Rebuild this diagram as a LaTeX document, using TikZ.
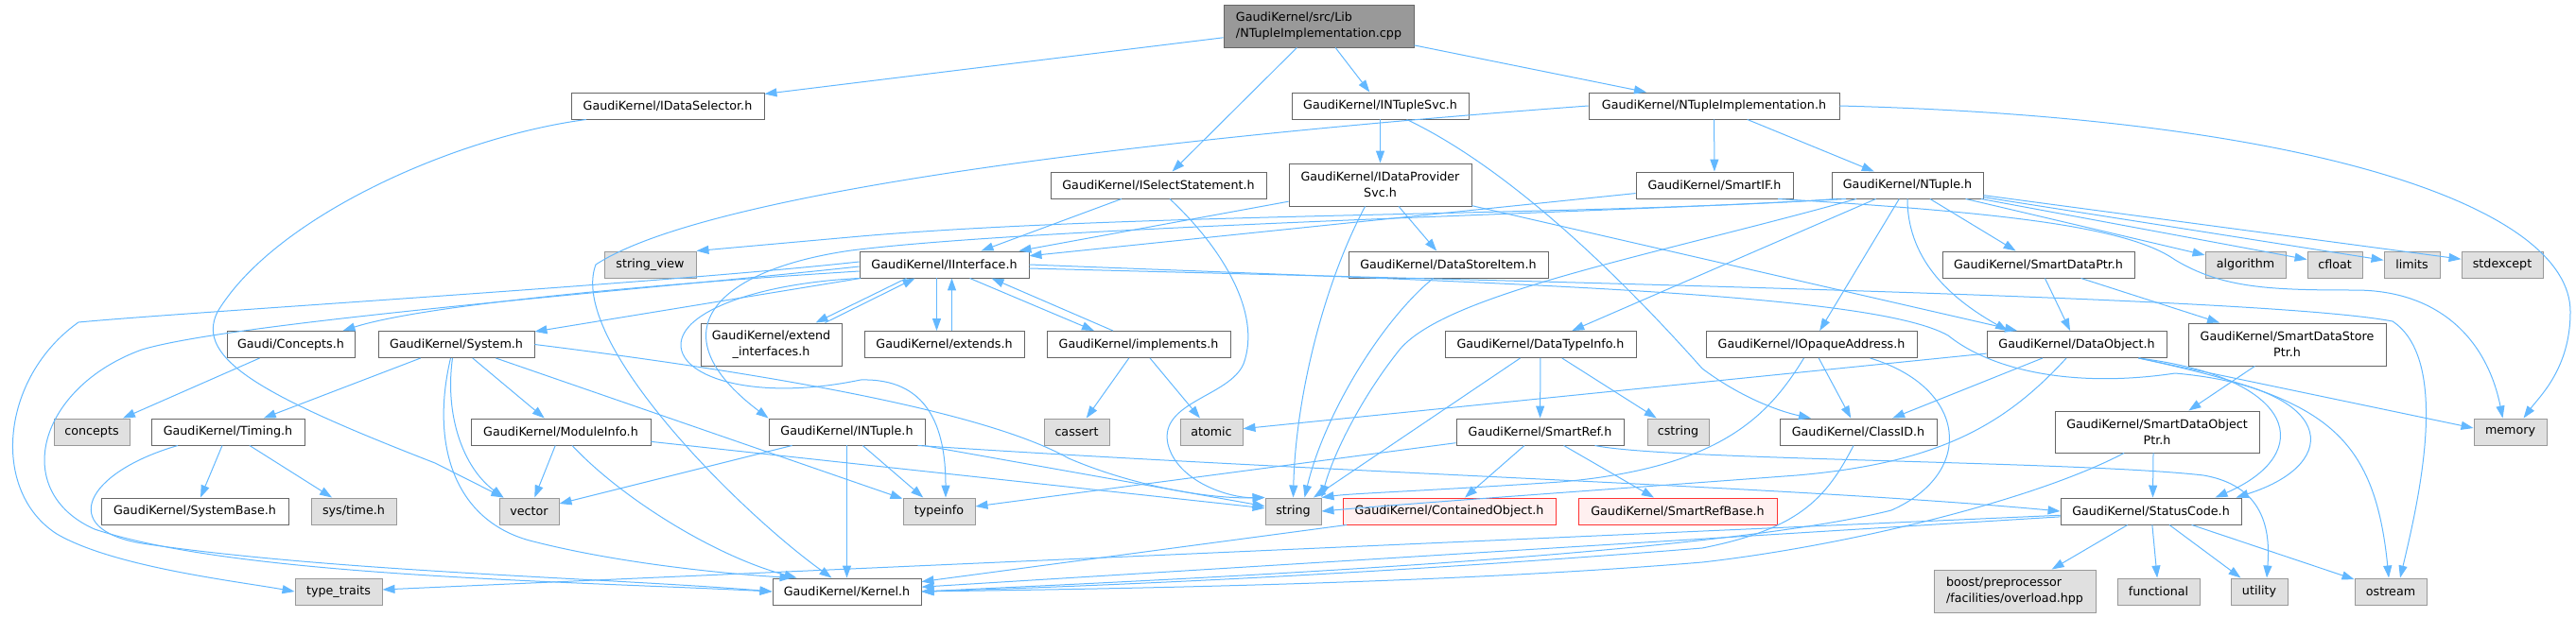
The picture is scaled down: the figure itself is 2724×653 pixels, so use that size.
\documentclass[tikz,border=0pt]{standalone}
\usepackage{fontspec}
\setmainfont{DejaVu Sans}
\usetikzlibrary{arrows.meta}
\definecolor{edgec}{HTML}{63B8FF}
\definecolor{nodeb}{HTML}{666666}
\definecolor{grayb}{HTML}{999999}
\definecolor{grayf}{HTML}{E0E0E0}
\definecolor{redb}{HTML}{FF3333}
\definecolor{redf}{HTML}{FFF0F0}
\definecolor{rootf}{HTML}{999999}
\newcommand{\fsz}{\fontsize{12.7}{16.7}\selectfont}
\tikzset{
  hnode/.style={draw=nodeb, fill=white, line width=0.95pt, inner sep=0pt, minimum height=28pt, font=\fsz, align=center},
  gnode/.style={hnode, draw=grayb, fill=grayf},
  rnode/.style={hnode, draw=redb, fill=redf},
  tnode/.style={hnode, minimum height=45pt},
  e/.style={draw=edgec, line width=1.0pt, -{Triangle[length=13pt,width=9pt]}},
}
\begin{document}
\begin{tikzpicture}[x=1pt,y=-1pt]
\useasboundingbox (0,0) rectangle (2724,653);
% nodes
\node[tnode, fill=rootf, minimum width=201pt, align=left] (root) at (1394.5,27.5) {GaudiKernel/src/Lib\\/NTupleImplementation.cpp};
\node[hnode, minimum width=204pt] (idsel) at (706,112) {GaudiKernel/IDataSelector.h};
\node[hnode, minimum width=187pt] (ntsvc) at (1459.5,112) {GaudiKernel/INTupleSvc.h};
\node[hnode, minimum width=265pt] (ntimplh) at (1812.5,112) {GaudiKernel/NTupleImplementation.h};
\node[hnode, minimum width=228pt] (isel) at (1225,196) {GaudiKernel/ISelectStatement.h};
\node[tnode, minimum width=193pt] (idps) at (1459.5,195.5) {GaudiKernel/IDataProvider\\Svc.h};
\node[hnode, minimum width=166pt] (smartif) at (1813,196) {GaudiKernel/SmartIF.h};
\node[hnode, minimum width=160pt] (ntuple) at (2017,196) {GaudiKernel/NTuple.h};
\node[gnode, minimum width=97pt] (strview) at (687.5,280) {string\_view};
\node[hnode, minimum width=179pt] (iif) at (998.5,280) {GaudiKernel/IInterface.h};
\node[hnode, minimum width=211pt] (dsi) at (1531.5,280) {GaudiKernel/DataStoreItem.h};
\node[hnode, minimum width=203pt] (sdp) at (2155.5,280) {GaudiKernel/SmartDataPtr.h};
\node[gnode, minimum width=85pt] (algo) at (2374.5,280) {algorithm};
\node[gnode, minimum width=58pt] (cfloat) at (2469,280) {cfloat};
\node[gnode, minimum width=59pt] (limits) at (2550.5,280) {limits};
\node[gnode, minimum width=86pt] (stdexc) at (2646,280) {stdexcept};
\node[hnode, minimum width=135pt] (concepth) at (307.5,364.5) {Gaudi/Concepts.h};
\node[hnode, minimum width=165pt] (system) at (482.5,364.5) {GaudiKernel/System.h};
\node[tnode, minimum width=149pt] (extif) at (815.5,364.5) {GaudiKernel/extend\\\_interfaces.h};
\node[hnode, minimum width=169pt] (extends) at (998.5,364.5) {GaudiKernel/extends.h};
\node[hnode, minimum width=194pt] (impl) at (1204,364.5) {GaudiKernel/implements.h};
\node[hnode, minimum width=202pt] (dti) at (1629,364.5) {GaudiKernel/DataTypeInfo.h};
\node[hnode, minimum width=223pt] (ioa) at (1915.5,364.5) {GaudiKernel/IOpaqueAddress.h};
\node[hnode, minimum width=190pt] (dobj) at (2196,364.5) {GaudiKernel/DataObject.h};
\node[tnode, minimum width=209pt] (sdsp) at (2418.5,364.5) {GaudiKernel/SmartDataStore\\Ptr.h};
\node[gnode, minimum width=80pt] (concepts) at (97,457) {concepts};
\node[hnode, minimum width=162pt] (timing) at (241,457) {GaudiKernel/Timing.h};
\node[hnode, minimum width=190pt] (modinfo) at (593,457) {GaudiKernel/ModuleInfo.h};
\node[hnode, minimum width=165pt] (intuple) at (895.5,457) {GaudiKernel/INTuple.h};
\node[gnode, minimum width=69pt] (cassert) at (1138.5,457) {cassert};
\node[gnode, minimum width=66pt] (atomic) at (1281,457) {atomic};
\node[hnode, minimum width=177pt] (smartref) at (1628.5,457) {GaudiKernel/SmartRef.h};
\node[gnode, minimum width=65pt] (cstring) at (1774.5,457) {cstring};
\node[hnode, minimum width=166pt] (classid) at (1965,457) {GaudiKernel/ClassID.h};
\node[tnode, minimum width=216pt, minimum height=44pt] (sdop) at (2281,457) {GaudiKernel/SmartDataObject\\Ptr.h};
\node[gnode, minimum width=77pt] (memory) at (2654.5,457) {memory};
\node[hnode, minimum width=198pt] (sysbase) at (206,541) {GaudiKernel/SystemBase.h};
\node[gnode, minimum width=90pt] (systime) at (374,541) {sys/time.h};
\node[gnode, minimum width=63pt] (vector) at (559.5,541) {vector};
\node[gnode, minimum width=76pt] (typeinfo) at (993,541) {typeinfo};
\node[gnode, minimum width=59pt] (string) at (1367.5,541) {string};
\node[rnode, minimum width=225pt] (contobj) at (1532.5,541) {GaudiKernel/ContainedObject.h};
\node[rnode, minimum width=210pt] (srbase) at (1774,541) {GaudiKernel/SmartRefBase.h};
\node[hnode, minimum width=191pt] (status) at (2274.5,541) {GaudiKernel/StatusCode.h};
\node[gnode, minimum width=92pt] (typetraits) at (358,626) {type\_traits};
\node[hnode, minimum width=157pt] (kernel) at (895.5,626) {GaudiKernel/Kernel.h};
\node[gnode, minimum width=171pt, minimum height=45pt, align=left] (boost) at (2130.5,625.5) {boost/preprocessor\\/facilities/overload.hpp};
\node[gnode, minimum width=87pt] (functional) at (2282.5,626) {functional};
\node[gnode, minimum width=60pt] (utility) at (2389,626) {utility};
\node[gnode, minimum width=76pt] (ostream) at (2528,626) {ostream};
% edges: root
\draw[e] (root) -- (idsel);
\draw[e] (root) -- (isel);
\draw[e] (root) -- (ntsvc);
\draw[e] (root) -- (ntimplh);
% IDataSelector
\draw[e] ([xshift=-86pt]idsel.south) .. controls (480,145) and (290,230) .. (230,330) .. controls (205,380) and (280,420) .. (460,490) -- ([xshift=-27pt]vector.north);
% INTupleSvc
\draw[e] (ntsvc) -- (idps);
\draw[e] ([xshift=28pt]ntsvc.south) .. controls (1600,180) and (1720,300) .. (1800,390) .. controls (1840,420) and (1880,435) .. ([xshift=-50pt]classid.north);
% NTupleImplementation.h
\draw[e] (ntimplh.west) .. controls (1300,140) and (760,195) .. (630,280) .. controls (600,360) and (780,540) .. ([xshift=-16pt]kernel.north);
\draw[e] (ntimplh) -- (smartif);
\draw[e] (ntimplh) -- (ntuple);
\draw[e] (ntimplh.east) .. controls (2450,125) and (2718,220) .. (2718,330) .. controls (2718,390) and (2685,420) .. ([xshift=14pt]memory.north);
% ISelectStatement
\draw[e] (isel) -- (iif);
\draw[e] ([xshift=12pt]isel.south) .. controls (1290,260) and (1335,330) .. (1315,385) .. controls (1300,420) and (1225,425) .. (1235,470) .. controls (1245,510) and (1300,527) .. (string.north west);
% IDataProviderSvc
\draw[e] (idps) -- (iif);
\draw[e] ([xshift=-16pt]idps.south) .. controls (1400,300) and (1370,420) .. (string.north);
\draw[e] (idps) -- (dsi);
\draw[e] (idps) -- (dobj);
% SmartIF
\draw[e] (smartif) -- (iif);
\draw[e] ([xshift=67pt]smartif.south) .. controls (2120,225) and (2250,240) .. (2300,275) .. controls (2350,305) and (2400,307) .. (2490,307) .. controls (2580,307) and (2630,360) .. ([xshift=-8pt]memory.north);
% NTuple.h
\foreach \t in {algo,cfloat,limits,stdexc,sdp,ioa,dti} {\draw[e] (ntuple) -- (\t);}
\draw[e] ([xshift=-54pt]ntuple.south) .. controls (1750,270) and (1530,310) .. (1480,370) .. controls (1440,420) and (1410,480) .. (string.north east);
\draw[e] (ntuple.south) .. controls (2017,280) and (2070,320) .. ([xshift=-73pt]dobj.north);
\draw[e] ([xshift=-65pt]ntuple.south) .. controls (1700,225) and (1100,240) .. (900,265) .. controls (760,285) and (690,350) .. (intuple.north west);
\draw[e] ([xshift=-75pt]ntuple.south) .. controls (1700,228) and (1200,225) .. (910,250) -- (strview.north east);
% DataStoreItem
\draw[e] ([xshift=-16pt]dsi.south) .. controls (1460,340) and (1400,440) .. ([xshift=12pt]string.north);
% SmartDataPtr
\draw[e] (sdp) -- (dobj);
\draw[e] (sdp) -- (sdsp);
% IInterface
\draw[e] ([yshift=-7pt]iif.west) .. controls (700,300) and (450,322) .. ([xshift=55pt]concepth.north);
\draw[e] (iif) -- (system);
\draw[e] ([yshift=-2pt]iif.west) .. controls (700,305) and (250,340) .. (150,370) .. controls (40,410) and (10,520) .. (100,560) .. controls (250,610) and (600,615) .. (kernel.west);
\draw[e] ([yshift=3pt]iif.west) .. controls (700,300) and (200,330) .. (83,341) .. controls (0,400) and (-10,520) .. (60,565) .. controls (120,600) and (250,615) .. (typetraits.west);
\draw[e] (iif.south west) .. controls (800,300) and (720,330) .. (720,365) .. controls (720,400) and (800,425) .. (910,402) .. controls (980,400) and (1000,450) .. ([xshift=7pt]typeinfo.north);
\draw[e] ([xshift=-40pt]iif.south) -- ([xshift=47pt]extif.north);
\draw[e] ([xshift=57pt]extif.north) -- ([xshift=-31pt]iif.south);
\draw[e] ([xshift=-8pt]iif.south) -- ([xshift=-8pt]extends.north);
\draw[e] ([xshift=8pt]extends.north) -- ([xshift=8pt]iif.south);
\draw[e] ([xshift=27pt]iif.south) -- ([xshift=-47pt]impl.north);
\draw[e] ([xshift=-27pt]impl.north) -- ([xshift=50pt]iif.south);
\draw[e] (iif.east) .. controls (1600,300) and (1980,310) .. (2060,355) .. controls (2110,395) and (2200,410) .. (2300,395) .. controls (2470,410) and (2480,490) .. ([xshift=90pt]status.north);
\draw[e] ([yshift=-4pt]iif.east) .. controls (1700,300) and (2400,315) .. (2530,340) .. controls (2590,380) and (2560,520) .. ([xshift=10pt]ostream.north);
% implements
\draw[e] (impl) -- (cassert);
\draw[e] (impl) -- (atomic);
% Concepts
\draw[e] (concepth) -- (concepts);
% System
\draw[e] (system) -- (timing);
\draw[e] (system) -- (modinfo);
\draw[e] ([xshift=-4pt]system.south) .. controls (470,440) and (490,495) .. ([xshift=-27pt]vector.north);
\draw[e] ([xshift=-6pt]system.south) .. controls (455,470) and (480,550) .. (560,572) .. controls (660,598) and (780,608) .. ([xshift=-58pt]kernel.north);
\draw[e] (system) -- (typeinfo);
\draw[e] (system.east) .. controls (850,400) and (1050,440) .. (1130,485) .. controls (1200,515) and (1280,528) .. (string.north west);
% Timing
\draw[e] (timing) -- (sysbase);
\draw[e] (timing) -- (systime);
\draw[e] ([xshift=-53pt]timing.south) .. controls (90,500) and (60,560) .. (150,575) .. controls (350,605) and (650,612) .. (kernel.west);
% ModuleInfo
\draw[e] (modinfo) -- (vector);
\draw[e] ([xshift=12pt]modinfo.south) .. controls (660,530) and (760,590) .. ([xshift=-53pt]kernel.north);
\draw[e] (modinfo) -- (string);
% INTuple
\draw[e] (intuple) -- (vector);
\draw[e] (intuple) -- (typeinfo);
\draw[e] (intuple) -- (kernel);
\draw[e] (intuple) -- (string);
\draw[e] ([xshift=75pt]intuple.south) .. controls (1400,500) and (1900,515) .. (status.west);
% DataTypeInfo
\draw[e] (dti) -- (smartref);
\draw[e] (dti) -- (cstring);
\draw[e] (dti) -- (string);
% SmartRef
\draw[e] (smartref) -- (contobj);
\draw[e] (smartref) -- (srbase);
\draw[e] (smartref) -- (typeinfo);
\draw[e] ([xshift=58pt]smartref.south) .. controls (1760,487) and (2200,488) .. (2330,503) .. controls (2400,515) and (2400,570) .. ([xshift=8pt]utility.north);
% IOpaqueAddress
\draw[e] (ioa) -- (classid);
\draw[e] ([xshift=-8pt]ioa.south) .. controls (1870,440) and (1820,495) .. (1650,510) .. controls (1500,520) and (1430,522) .. (string.north east);
\draw[e] ([xshift=62pt]ioa.south) .. controls (2080,410) and (2090,500) .. (2000,540) .. controls (1800,590) and (1200,615) .. (kernel.east);
% DataObject
\draw[e] (dobj) -- (classid);
\draw[e] (dobj) -- (atomic);
\draw[e] ([xshift=-11pt]dobj.south) .. controls (2120,450) and (2050,490) .. (1900,503) .. controls (1700,518) and (1500,532) .. (string.east);
\draw[e] ([xshift=-30pt]dobj.south east) -- ([yshift=4pt]memory.west);
\draw[e] ([xshift=-30pt]dobj.south east) .. controls (2450,420) and (2510,450) .. ([xshift=-2pt]ostream.north);
\draw[e] ([xshift=-30pt]dobj.south east) .. controls (2430,400) and (2450,480) .. ([xshift=68pt]status.north);
% SmartDataStorePtr
\draw[e] (sdsp) -- (sdop);
% SmartDataObjectPtr
\draw[e] ([xshift=-4pt]sdop.south) -- ([xshift=2pt]status.north);
\draw[e] ([xshift=-35pt]sdop.south) .. controls (2150,530) and (1950,578) .. (1800,595) .. controls (1500,620) and (1100,624) .. (kernel.east);
% ClassID
\draw[e] ([xshift=-5pt]classid.south) .. controls (1930,530) and (1900,560) .. (1800,580) .. controls (1400,612) and (1100,622) .. (kernel.east);
% ContainedObject
\draw[e] (contobj) -- (kernel);
% StatusCode
\draw[e] (status) -- (kernel);
\draw[e] (status) -- (typetraits);
\draw[e] (status) -- (boost);
\draw[e] (status) -- (functional);
\draw[e] (status) -- (utility);
\draw[e] (status) -- (ostream);
\end{tikzpicture}
\end{document}
